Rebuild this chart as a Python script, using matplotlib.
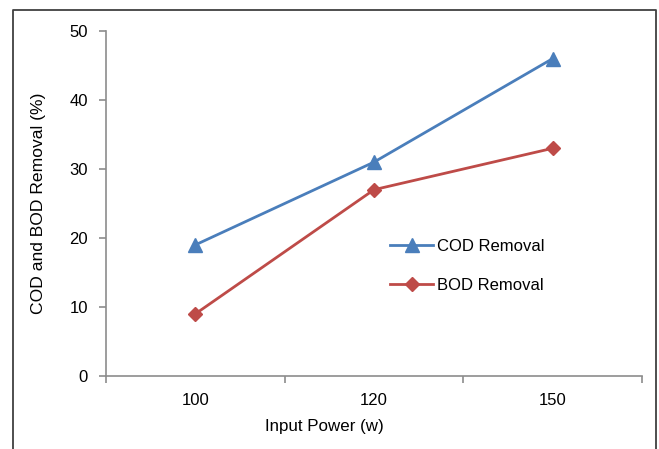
import matplotlib
matplotlib.use("Agg")
from matplotlib import pyplot as plt
from matplotlib.lines import Line2D

plt.rcParams["font.family"] = ["Liberation Sans", "DejaVu Sans"]

power = ["100", "120", "150"]
cod_removal = [19, 31, 46]
bod_removal = [9, 27, 33]
y_ticks = [0, 10, 20, 30, 40, 50]

W, H = 659, 449
fig = plt.figure(figsize=(W / 100, H / 100), dpi=100)
ax = fig.add_axes([106 / W, 1 - 376 / H, (642 - 106) / W, (376 - 31) / H])

x = list(range(len(power)))
ax.plot(x, cod_removal, color="#4A7EBB", lw=2, marker="^", ms=10,
        label="COD Removal", clip_on=False)
ax.plot(x, bod_removal, color="#BE4B48", lw=2, marker="D", ms=7,
        label="BOD Removal", clip_on=False)

ax.set_xlim(-0.5, len(power) - 0.5)
ax.set_ylim(0, 50)
ax.set_yticks(y_ticks)
ax.set_xticks(x)
ax.set_xticklabels(power)
ax.set_xticks([i - 0.5 for i in range(len(power) + 1)], minor=True)

for s in ["top", "right"]:
    ax.spines[s].set_visible(False)
for s in ["left", "bottom"]:
    ax.spines[s].set_color("#8C8C8C")
    ax.spines[s].set_linewidth(1.2)

ax.tick_params(axis="y", colors="#8C8C8C", labelcolor="black", length=5,
               width=1.2, labelsize=12, pad=8)
ax.tick_params(axis="x", which="major", length=0, labelsize=12, pad=12)
ax.tick_params(axis="x", which="minor", colors="#8C8C8C", length=5, width=1.2)

# x title sits left of centre in the original
ax.set_xlabel("Input Power (w)", fontsize=12.2, labelpad=8)
ax.xaxis.label.set_x((324 - 106) / (642 - 106))
ax.set_ylabel("COD and BOD Removal (%)", fontsize=12.6, labelpad=17)

ax.legend(loc="center left", bbox_to_anchor=(390 / W, 1 - 266 / H),
          bbox_transform=fig.transFigure, frameon=False, fontsize=12,
          handlelength=2.6, handletextpad=0.2, labelspacing=1.4,
          borderpad=0, borderaxespad=0)

# outer frame (open at the bottom)
fig.add_artist(Line2D([13 / W, 13 / W, 656 / W, 656 / W],
                      [0, 1 - 10 / H, 1 - 10 / H, 0],
                      transform=fig.transFigure, color="#404040", lw=1.3))

fig.savefig("out.png", dpi=100)
